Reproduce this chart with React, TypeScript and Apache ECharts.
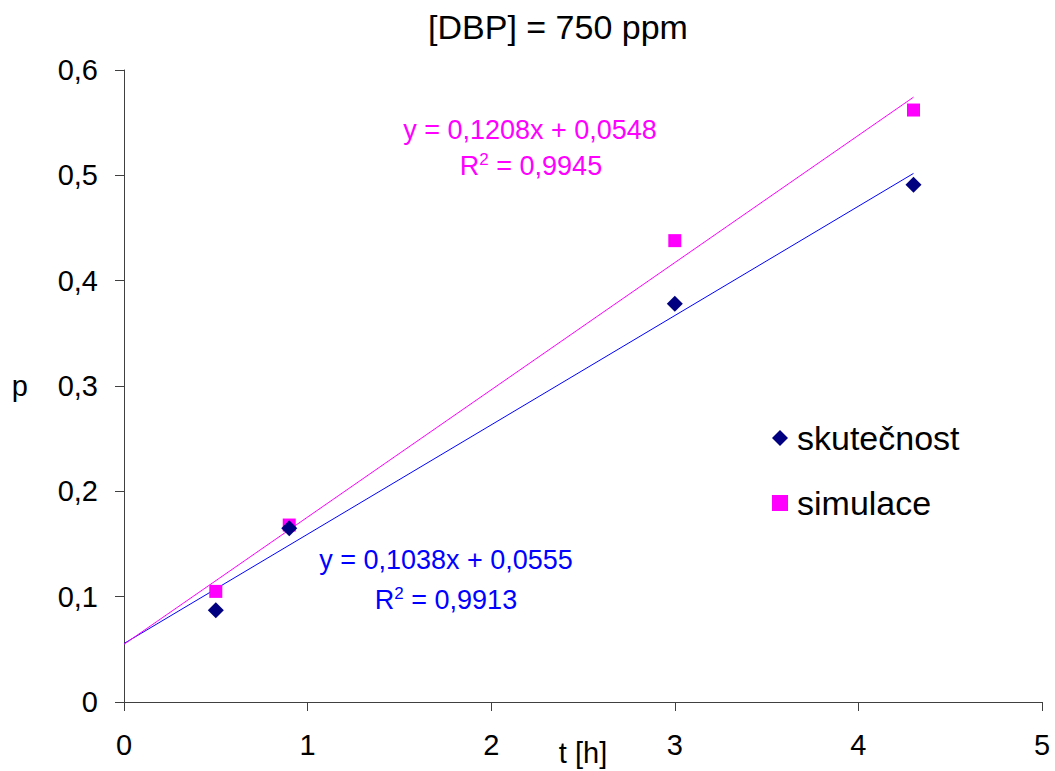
import React, { useEffect, useRef } from "react";
import * as echarts from "echarts";

const title = "[DBP] = 750 ppm";
const xTicks = [0, 1, 2, 3, 4, 5];
const yTicks = [0, 0.1, 0.2, 0.3, 0.4, 0.5, 0.6];
const times = [0.5, 0.9, 3, 4.3];
const skutecnost = [0.087, 0.165, 0.378, 0.491];
const simulace = [0.105, 0.168, 0.438, 0.562];
const trendSkutecnost: [number, number][] = [[0, 0.0555], [4.3, 0.5018]];
const trendSimulace: [number, number][] = [[0, 0.0548], [4.3, 0.5742]];
const eqSkutecnost = ["y = 0,1038x + 0,0555", "0,9913"];
const eqSimulace = ["y = 0,1208x + 0,0548", "0,9945"];

const FONT = "Liberation Sans, Arial, sans-serif";

export default function App() {
  const ref = useRef<HTMLDivElement>(null);
  useEffect(() => {
    const chart = echarts.init(ref.current!, null, { renderer: "svg" });
    const axisLine = { show: true, lineStyle: { color: "#404040", width: 1 } };
    const supStyle = (c: string) => ({
      fontSize: 17,
      fill: c,
      fontFamily: FONT,
      verticalAlign: "top",
      padding: [0, 0, 14, 0],
    });
    chart.setOption({
      animation: false,
      backgroundColor: "#ffffff",
      title: {
        text: title,
        left: 553,
        top: 5,
        textAlign: "center",
        textStyle: { fontFamily: FONT, fontSize: 34, fontWeight: "normal", color: "#000" },
      },
      grid: { left: 124, right: 13, top: 70, bottom: 69, outerBoundsMode: "none", containLabel: false },
      xAxis: {
        type: "value",
        min: 0,
        max: 5,
        interval: 1,
        axisLine,
        axisTick: { show: true, inside: false, length: 9, lineStyle: { color: "#404040" } },
        splitLine: { show: false },
        axisLabel: {
          fontFamily: FONT,
          fontSize: 29,
          color: "#000",
          margin: 28,
          formatter: (v: number) => (xTicks.includes(v) ? String(v) : ""),
        },
        name: "t [h]",
        nameLocation: "middle",
        nameGap: 36,
        nameMoveOverlap: false,
        nameTextStyle: { fontFamily: FONT, fontSize: 29, color: "#000" },
      },
      yAxis: {
        type: "value",
        min: 0,
        max: 0.6,
        interval: 0.1,
        axisLine,
        axisTick: { show: true, inside: false, length: 9, lineStyle: { color: "#404040" } },
        splitLine: { show: false },
        axisLabel: {
          fontFamily: FONT,
          fontSize: 29,
          color: "#000",
          margin: 26,
          formatter: (v: number) => {
            const t = yTicks.find((y) => Math.abs(y - v) < 1e-9);
            return t === undefined ? "" : t === 0 ? "0" : t.toFixed(1).replace(".", ",");
          },
        },
        name: "p",
        nameLocation: "middle",
        nameGap: 96,
        nameRotate: 0,
        nameMoveOverlap: false,
        nameTextStyle: { fontFamily: FONT, fontSize: 29, color: "#000" },
      },
      legend: {
        orient: "vertical",
        left: 767,
        top: 416,
        itemGap: 31,
        itemWidth: 16,
        itemHeight: 16,
        textStyle: { fontFamily: FONT, fontSize: 34, color: "#000", padding: [0, 0, 0, 4] },
        data: [
          { name: "skutečnost", icon: "diamond" },
          { name: "simulace", icon: "path://M2,2L14,2L14,14L2,14Z" },
        ],
      },
      series: [
        {
          name: "trend skutečnost",
          type: "line",
          data: trendSkutecnost,
          symbol: "none",
          lineStyle: { color: "#0000ff", width: 1 },
          silent: true,
          z: 1,
        },
        {
          name: "trend simulace",
          type: "line",
          data: trendSimulace,
          symbol: "none",
          lineStyle: { color: "#ff00ff", width: 1 },
          silent: true,
          z: 1,
        },
        {
          name: "skutečnost",
          type: "scatter",
          symbol: "diamond",
          symbolSize: 16,
          itemStyle: { color: "#000080", opacity: 1 },
          data: times.map((t, i) => [t, skutecnost[i]]),
          z: 3,
        },
        {
          name: "simulace",
          type: "scatter",
          symbol: "rect",
          symbolSize: 13,
          itemStyle: { color: "#ff00ff", opacity: 1 },
          data: times.map((t, i) => [t, simulace[i]]),
          z: 2,
        },
      ],
      graphic: [
        {
          type: "text",
          x: 530,
          y: 130,
          style: {
            text: eqSimulace[0],
            fill: "#ff00ff",
            font: `27px ${FONT}`,
            align: "center",
            verticalAlign: "middle",
          },
        },
        {
          type: "text",
          x: 531,
          y: 166,
          style: {
            text: `R{sup|2} = ${eqSimulace[1]}`,
            fill: "#ff00ff",
            font: `27px ${FONT}`,
            align: "center",
            verticalAlign: "middle",
            rich: { sup: supStyle("#ff00ff") },
          },
        },
        {
          type: "text",
          x: 446,
          y: 560,
          style: {
            text: eqSkutecnost[0],
            fill: "#0000ff",
            font: `27px ${FONT}`,
            align: "center",
            verticalAlign: "middle",
          },
        },
        {
          type: "text",
          x: 446,
          y: 600,
          style: {
            text: `R{sup|2} = ${eqSkutecnost[1]}`,
            fill: "#0000ff",
            font: `27px ${FONT}`,
            align: "center",
            verticalAlign: "middle",
            rich: { sup: supStyle("#0000ff") },
          },
        },
      ],
    });
    return () => chart.dispose();
  }, []);
  return <div ref={ref} style={{ width: 1055, height: 771, position: "absolute", left: 0, top: 0 }} />;
}
